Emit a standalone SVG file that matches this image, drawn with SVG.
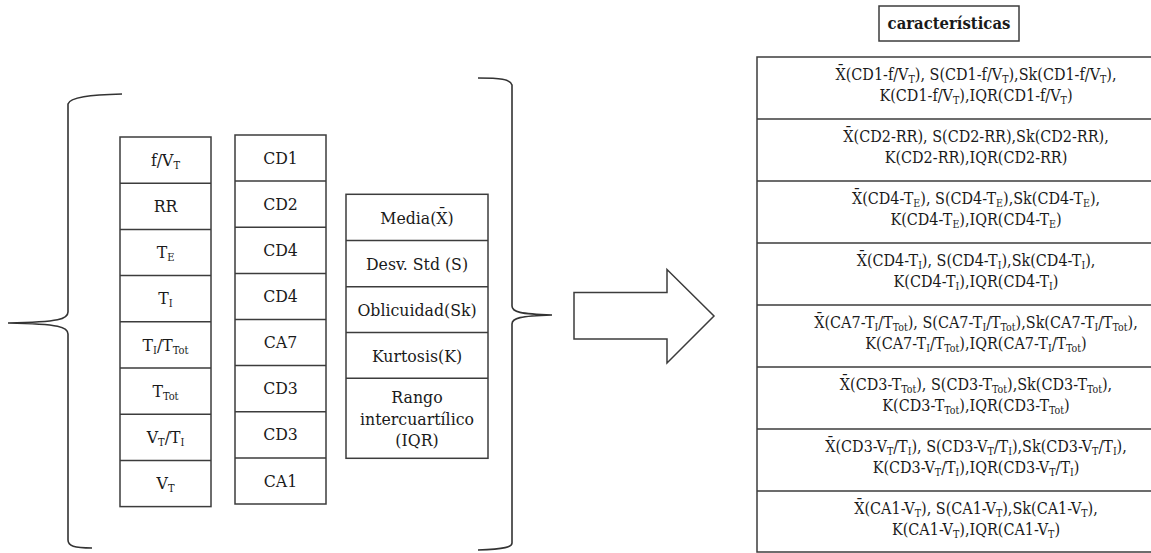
<svg xmlns="http://www.w3.org/2000/svg" width="1151" height="553" viewBox="0 0 1151 553">
  <style>
    .box { fill: #ffffff; stroke: #3c3c3c; stroke-width: 1.5; }
    .line { fill: none; stroke: #3c3c3c; stroke-width: 1.5; }
    .brace { fill: none; stroke: #333333; stroke-width: 1.6; }
    text { font-family: "DejaVu Serif Condensed", "DejaVu Serif", serif; fill: #1a1a1a; text-anchor: middle; }
    .lbl { font-size: 17.5px; }
    .feat { font-size: 16px; }
    .title { font-size: 16.5px; font-weight: bold; }
    .s { font-size: 11px; baseline-shift: -3px; }
    .fs { font-size: 10.5px; baseline-shift: -3px; }
  </style>

  <rect width="1151" height="553" fill="#ffffff"/>

  <!-- braces around the input tables -->
  <g id="brace-left">
    <path class="brace" d="M122,94 C90,95 70,97 68,104 L68,312 C68,319 60,322 8,323 C60,324 68,327 68,334 L68,540 C68,546 74,548 92,548"/>
  </g>
  <g id="brace-right">
    <path class="brace" d="M478,78 C500,78 510,79 512,85 L512,306 C512,312 520,314 552,315 C520,316 512,318 512,324 L512,543 C512,547 505,549 478,550"/>
  </g>

  <!-- signal column -->
  <g id="signals">
    <rect class="box" x="120" y="137" width="91" height="369.6"/>
    <path class="line" d="M120,183.2H211 M120,229.4H211 M120,275.6H211 M120,321.8H211 M120,368H211 M120,414.2H211 M120,460.4H211"/>
    <text class="lbl" x="165.5" y="166">f/V<tspan class="s">T</tspan></text>
    <text class="lbl" x="165.5" y="212">RR</text>
    <text class="lbl" x="165.5" y="258">T<tspan class="s">E</tspan></text>
    <text class="lbl" x="165.5" y="304">T<tspan class="s">I</tspan></text>
    <text class="lbl" x="165.5" y="351">T<tspan class="s">I</tspan>/T<tspan class="s">Tot</tspan></text>
    <text class="lbl" x="165.5" y="397">T<tspan class="s">Tot</tspan></text>
    <text class="lbl" x="165.5" y="443">V<tspan class="s">T</tspan>/T<tspan class="s">I</tspan></text>
    <text class="lbl" x="165.5" y="489">V<tspan class="s">T</tspan></text>
  </g>

  <!-- coefficient column -->
  <g id="coefficients">
    <rect class="box" x="235" y="135" width="91" height="369"/>
    <path class="line" d="M235,181.1H326 M235,227.3H326 M235,273.4H326 M235,319.5H326 M235,365.6H326 M235,411.8H326 M235,457.9H326"/>
    <text class="lbl" x="280.5" y="164">CD1</text>
    <text class="lbl" x="280.5" y="210">CD2</text>
    <text class="lbl" x="280.5" y="256">CD4</text>
    <text class="lbl" x="280.5" y="302">CD4</text>
    <text class="lbl" x="280.5" y="348">CA7</text>
    <text class="lbl" x="280.5" y="394">CD3</text>
    <text class="lbl" x="280.5" y="440">CD3</text>
    <text class="lbl" x="280.5" y="487">CA1</text>
  </g>

  <!-- statistics column -->
  <g id="statistics">
    <rect class="box" x="346" y="194.3" width="142" height="264"/>
    <path class="line" d="M346,240.5H488 M346,286.7H488 M346,332.5H488 M346,378.3H488"/>
    <text class="lbl" x="417" y="223.5">Media(X̄)</text>
    <text class="lbl" x="417" y="269.7">Desv. Std (S)</text>
    <text class="lbl" x="417" y="315.7">Oblicuidad(Sk)</text>
    <text class="lbl" x="417" y="361.5">Kurtosis(K)</text>
    <text class="lbl" x="417" y="403">Rango</text>
    <text class="lbl" x="417" y="424.5">intercuartílico</text>
    <text class="lbl" x="417" y="446">(IQR)</text>
  </g>

  <!-- block arrow -->
  <g id="arrow">
    <polygon class="line" points="574,292.5 667,292.5 667,269.5 714,316 667,363 667,339 574,339"/>
  </g>

  <!-- output header -->
  <g id="header">
    <rect class="box" x="879" y="6" width="140" height="35"/>
    <text class="title" x="949" y="29">características</text>
  </g>

  <!-- feature table -->
  <g id="features">
    <rect class="box" x="757" y="57" width="450" height="495"/>
    <path class="line" d="M757,119H1151 M757,181H1151 M757,243H1151 M757,305H1151 M757,367H1151 M757,429H1151 M757,491H1151"/>

    <text class="feat" x="976" y="80">X̄(CD1-f/V<tspan class="fs">T</tspan>), S(CD1-f/V<tspan class="fs">T</tspan>),Sk(CD1-f/V<tspan class="fs">T</tspan>),</text>
    <text class="feat" x="976" y="101">K(CD1-f/V<tspan class="fs">T</tspan>),IQR(CD1-f/V<tspan class="fs">T</tspan>)</text>

    <text class="feat" x="976" y="142">X̄(CD2-RR), S(CD2-RR),Sk(CD2-RR),</text>
    <text class="feat" x="976" y="163">K(CD2-RR),IQR(CD2-RR)</text>

    <text class="feat" x="976" y="204">X̄(CD4-T<tspan class="fs">E</tspan>), S(CD4-T<tspan class="fs">E</tspan>),Sk(CD4-T<tspan class="fs">E</tspan>),</text>
    <text class="feat" x="976" y="225">K(CD4-T<tspan class="fs">E</tspan>),IQR(CD4-T<tspan class="fs">E</tspan>)</text>

    <text class="feat" x="976" y="266">X̄(CD4-T<tspan class="fs">I</tspan>), S(CD4-T<tspan class="fs">I</tspan>),Sk(CD4-T<tspan class="fs">I</tspan>),</text>
    <text class="feat" x="976" y="287">K(CD4-T<tspan class="fs">I</tspan>),IQR(CD4-T<tspan class="fs">I</tspan>)</text>

    <text class="feat" x="976" y="328">X̄(CA7-T<tspan class="fs">I</tspan>/T<tspan class="fs">Tot</tspan>), S(CA7-T<tspan class="fs">I</tspan>/T<tspan class="fs">Tot</tspan>),Sk(CA7-T<tspan class="fs">I</tspan>/T<tspan class="fs">Tot</tspan>),</text>
    <text class="feat" x="976" y="349">K(CA7-T<tspan class="fs">I</tspan>/T<tspan class="fs">Tot</tspan>),IQR(CA7-T<tspan class="fs">I</tspan>/T<tspan class="fs">Tot</tspan>)</text>

    <text class="feat" x="976" y="390">X̄(CD3-T<tspan class="fs">Tot</tspan>), S(CD3-T<tspan class="fs">Tot</tspan>),Sk(CD3-T<tspan class="fs">Tot</tspan>),</text>
    <text class="feat" x="976" y="411">K(CD3-T<tspan class="fs">Tot</tspan>),IQR(CD3-T<tspan class="fs">Tot</tspan>)</text>

    <text class="feat" x="976" y="452">X̄(CD3-V<tspan class="fs">T</tspan>/T<tspan class="fs">I</tspan>), S(CD3-V<tspan class="fs">T</tspan>/T<tspan class="fs">I</tspan>),Sk(CD3-V<tspan class="fs">T</tspan>/T<tspan class="fs">I</tspan>),</text>
    <text class="feat" x="976" y="473">K(CD3-V<tspan class="fs">T</tspan>/T<tspan class="fs">I</tspan>),IQR(CD3-V<tspan class="fs">T</tspan>/T<tspan class="fs">I</tspan>)</text>

    <text class="feat" x="976" y="514">X̄(CA1-V<tspan class="fs">T</tspan>), S(CA1-V<tspan class="fs">T</tspan>),Sk(CA1-V<tspan class="fs">T</tspan>),</text>
    <text class="feat" x="976" y="535">K(CA1-V<tspan class="fs">T</tspan>),IQR(CA1-V<tspan class="fs">T</tspan>)</text>
  </g>
</svg>
